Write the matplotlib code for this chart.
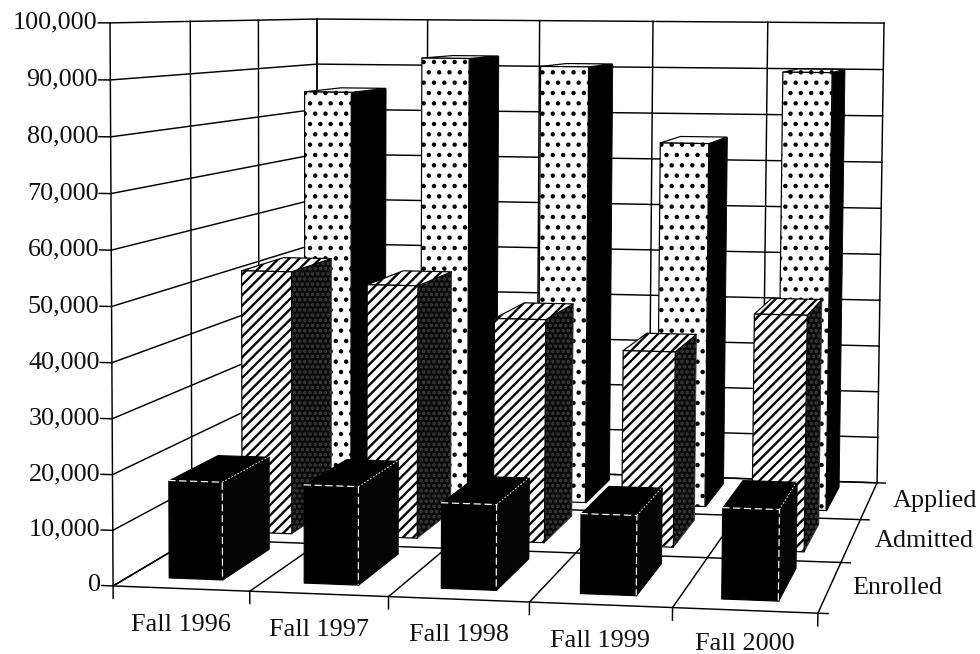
import numpy as np
import matplotlib
matplotlib.use("Agg")
import matplotlib.pyplot as plt
from mpl_toolkits.mplot3d.art3d import Poly3DCollection
from mpl_toolkits.mplot3d import proj3d

categories = ["Fall 1996", "Fall 1997", "Fall 1998", "Fall 1999", "Fall 2000"]
series_names = ["Enrolled", "Admitted", "Applied"]
enrolled = [17700, 17700, 15300, 14200, 16100]
admitted = [51500, 49300, 43300, 37700, 45300]
applied = [85000, 92300, 90800, 75300, 90100]
value_ticks = list(range(0, 100001, 10000))
category_label_drop = [-6500, -6500, -6400, -6300, -5800]

W, H, DPI = 980, 654, 124
plt.rcParams["font.family"] = ["Liberation Serif", "DejaVu Serif"]
plt.rcParams["hatch.linewidth"] = 1.35
FS = 15.2

fig = plt.figure(figsize=(W / DPI, H / DPI), dpi=DPI, facecolor="white")
ax = fig.add_axes([0, 0, 1, 1], projection="3d", computed_zorder=False)
ax.apply_aspect = lambda position=None: None
ax.set_axis_off()

# camera calibration: box corners (categories, series, value fraction) -> picture pixels
n_cat, n_ser = len(categories), len(series_names)
calib = [((0, 0, 0), (113, 586)), ((n_cat, 0, 0), (818, 613)),
         ((n_cat, n_ser, 0), (877, 483)), ((0, n_ser, 0), (317, 465)),
         ((0, 0, 1), (110, 23)), ((0, n_ser, 1), (317, 19)),
         ((n_cat, n_ser, 1), (884, 23))]
rows = []
for (X, Y, Z), (u, v) in calib:
    u, v = u / 1000, v / 1000
    rows.append([X, Y, Z, 1, 0, 0, 0, 0, -u * X, -u * Y, -u * Z, -u])
    rows.append([0, 0, 0, 0, X, Y, Z, 1, -v * X, -v * Y, -v * Z, -v])
P = np.linalg.svd(np.array(rows, float))[2][-1].reshape(3, 4)
P = P @ np.diag([1, 1, 1 / value_ticks[-1], 1])
vx0, vx1 = ax.viewLim.intervalx
vy0, vy1 = ax.viewLim.intervaly
to_view = np.array([[(vx1 - vx0) * 1000 / W, 0, vx0],
                    [0, -(vy1 - vy0) * 1000 / H, vy1],
                    [0, 0, 1]])
Q = to_view @ P
M = np.array([Q[0], Q[1], [0, 0, 0, 1], Q[2]])
ax.get_proj = lambda: M
ax.M = M


def line(xs, ys, zs, color="black", lw=0.85, z=1, **kw):
    ax.plot(xs, ys, zs, color=color, lw=lw, zorder=z, solid_capstyle="projecting", **kw)


def label(x, y, z, s, **kw):
    px, py, _ = proj3d.proj_transform(x, y, z, M)
    ax.text2D(float(px), float(py), s, fontsize=FS, color="#111", va="center", **kw)


top = value_ticks[-1]
for v in value_ticks:
    line([0, 0, n_cat], [0, n_ser, n_ser], [v, v, v])
    line([-0.085, 0], [0, 0], [v, v])
    label(-0.09, 0, v, f"{v:,}", ha="right")
for k in range(n_ser + 1):
    line([0, 0], [k, k], [0, top])
    line([0, n_cat + 0.07], [k, k], [0, 0])
for i in range(n_cat + 1):
    line([i, i], [n_ser, n_ser], [0, top])
    line([i, i], [0, n_ser], [0, 0])
    line([i, i], [0, 0], [0, -2200])

for i, c in enumerate(categories):
    label(i + 0.5, 0, category_label_drop[i], c, ha="center")
for k, s in enumerate(series_names):
    label(n_cat + 0.16 + 0.02 * k, k + 0.5, 0, s, ha="left")


def face(verts, fc, ec, hatch, z, lw=0.7):
    pc = Poly3DCollection([verts], facecolors=fc, edgecolors=ec, linewidths=lw,
                          hatch=hatch, zorder=z)
    ax.add_collection3d(pc, autolim=False)


styles = [
    dict(front=("black", "black", None), top=("black", "black", None), side=("#050505", "#050505", None)),
    dict(front=("white", "black", "////"), top=("white", "black", "////"), side=("#0a0a0a", "#3c3c3c", "....")),
    dict(front=("white", "black", ".."), top=("white", "black", ".."), side=("#000000", "#000000", None)),
]
values = [enrolled, admitted, applied]
gx, gy0, gy1 = 0.29, 0.2, 0.15
for k in reversed(range(n_ser)):
    zbase = 10 + (n_ser - k) * 100
    for i in range(n_cat):
        h = values[k][i]
        x0, x1 = i + gx, i + 1 - gx - 0.02
        y0, y1 = k + gy0, k + 1 - gy1
        s = styles[k]
        z = zbase + i * 5
        face([(x1, y0, 0), (x1, y1, 0), (x1, y1, h), (x1, y0, h)], *s["side"], z, lw=0.5)
        face([(x0, y0, h), (x1, y0, h), (x1, y1, h), (x0, y1, h)], *s["top"], z + 1)
        face([(x0, y0, 0), (x1, y0, 0), (x1, y0, h), (x0, y0, h)], *s["front"], z + 2)
        if k == 0:
            line([x0, x1, x1], [y0, y0, y0], [h, h, 0], color="white", lw=0.7, z=z + 3, ls=(0, (6, 3)))
            line([x1, x1], [y0, y1], [h, h], color="white", lw=0.5, z=z + 3, ls=(0, (2, 2)))

fig.savefig("out.png", dpi=DPI)
